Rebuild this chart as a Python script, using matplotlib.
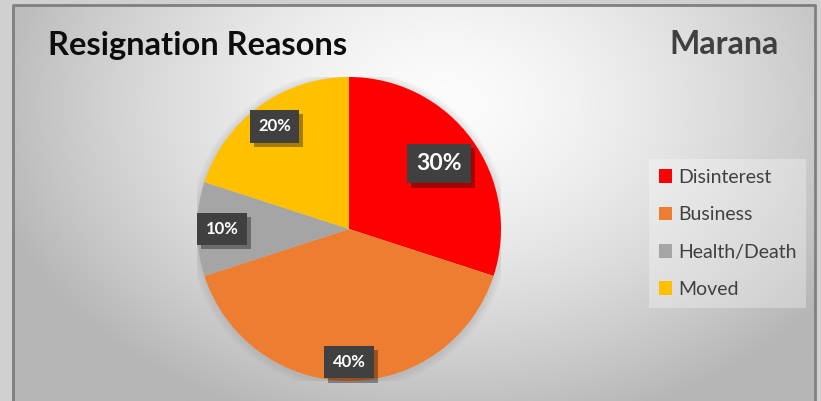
import matplotlib.pyplot as plt
import numpy as np
from matplotlib.patches import Patch, Circle
import matplotlib.patheffects as pe

# data
labels = ['Disinterest', 'Business', 'Health/Death', 'Moved']
values = [30, 40, 10, 20]
colors = ['#ff0000', '#ed7d31', '#a5a5a5', '#ffc000']
label_r = [0.73, 0.875, 0.835, 0.835]
label_size = [16.5, 12, 12, 12]

W, H = 821, 401
fig = plt.figure(figsize=(W / 100, H / 100), dpi=100)
fig.patch.set_facecolor('#d0d0d0')

# background: radial gradient inside the frame
bg = fig.add_axes([0, 0, 1, 1])
bg.set_xlim(0, W)
bg.set_ylim(H, 0)
bg.axis('off')
yy, xx = np.mgrid[0:H, 0:W]
d = np.sqrt(((xx - 440) / 480.0) ** 2 + ((yy - 100) / 340.0) ** 2)
v = 252 - 70 * np.clip(d, 0, 1) ** 1.5
img = np.dstack([v, v, v]) / 255.0
bg.imshow(img, extent=(13, 815, H, 5), zorder=0)
bg.plot([13, 13, 815, 815], [H, 5, 5, H], color='#7f7f7f', lw=2, zorder=1)

bg.text(48, 45, 'Resignation Reasons', fontsize=23.5, fontweight='bold',
        family='Lato', color='#0d0d0d', va='center', ha='left')
bg.text(779, 45, 'Marana', fontsize=23, fontweight='bold',
        family='Lato', color='#404040', va='center', ha='right')

# pie
cx, cy, r = 349, 229, 152
ax = fig.add_axes([(cx - r) / W, (H - cy - r) / H, 2 * r / W, 2 * r / H])

for k in range(5):
    ax.add_patch(Circle((0.0, -0.01), 1.0 + 0.01 * (k + 1), color='#808080',
                        alpha=0.045, lw=0, zorder=0))

wedges, _ = ax.pie(values, colors=colors, startangle=90, counterclock=False,
                   radius=1, wedgeprops=dict(linewidth=0))
ax.set_xlim(-1, 1)
ax.set_ylim(-1, 1)
ax.axis('off')

for w, val, rr, fs in zip(wedges, values, label_r, label_size):
    ang = np.deg2rad((w.theta1 + w.theta2) / 2)
    x, y = rr * np.cos(ang), rr * np.sin(ang)
    pad = 0.4 if fs > 14 else 0.5
    t = ax.text(x, y, '%d%%' % val, ha='center', va='center', fontsize=fs,
                fontweight='bold', family='Lato', color='white', zorder=5,
                bbox=dict(boxstyle='square,pad=%s' % pad, fc='#404040', ec='none'))
    t.get_bbox_patch().set_path_effects([
        pe.SimplePatchShadow(offset=(3, -3), shadow_rgbFace='black', alpha=0.35),
        pe.Normal()])

handles = [Patch(facecolor=c, label=l) for c, l in zip(colors, labels)]
leg = fig.legend(handles=handles, loc='upper left',
                 bbox_to_anchor=(649 / W, 1 - 159 / H), borderaxespad=0,
                 frameon=True, prop=dict(family='Lato', size=14),
                 labelcolor='#404040', handlelength=0.7, handleheight=0.7,
                 handletextpad=0.3, labelspacing=1.05, borderpad=0.5,
                 fancybox=False)
leg.get_frame().set_facecolor('#ffffff')
leg.get_frame().set_alpha(0.3)
leg.get_frame().set_edgecolor('none')

fig.savefig('out.png', dpi=100)
